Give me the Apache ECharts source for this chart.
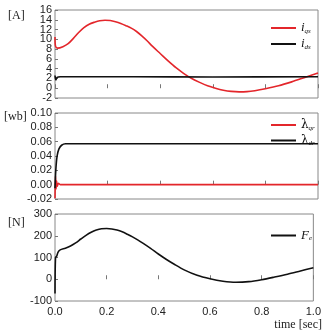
<!DOCTYPE html>
<html>
<head>
<meta charset="utf-8">
<script src="https://cdn.jsdelivr.net/npm/echarts@6/dist/echarts.min.js"></script>
<style>
  html, body { margin: 0; padding: 0; background: #fff; }
  #chart { width: 324px; height: 332px; }
</style>
</head>
<body>
<div id="chart"></div>
<script>
// tick labels
var timeTicks = [0, 0.2, 0.4, 0.6, 0.8, 1.0];
var ampTicks = [-2, 0, 2, 4, 6, 8, 10, 12, 14, 16];
var fluxTicks = [-0.02, 0.0, 0.02, 0.04, 0.06, 0.08, 0.10];
var forceTicks = [-100, 0, 100, 200, 300];

// [A] currents
var iqs = [[0, 10.5], [0.002, 8.6], [0.01, 8.2], [0.03, 8.5], [0.05, 9.1], [0.07, 10.2],
  [0.09, 11.4], [0.11, 12.4], [0.13, 13.1], [0.15, 13.5], [0.17, 13.8], [0.19, 13.9],
  [0.21, 13.85], [0.23, 13.6], [0.25, 13.25], [0.27, 12.8], [0.29, 12.3], [0.31, 11.6],
  [0.33, 10.7], [0.35, 9.7], [0.37, 8.6], [0.40, 7.1], [0.43, 5.6], [0.46, 4.2], [0.49, 3.0],
  [0.52, 2.0], [0.55, 1.2], [0.58, 0.5], [0.61, 0.0], [0.64, -0.4], [0.67, -0.65],
  [0.70, -0.75], [0.73, -0.7], [0.76, -0.5], [0.80, -0.1], [0.85, 0.5], [0.90, 1.3],
  [0.95, 2.2], [1.0, 3.1]];
var ids = [[0, 2.6], [0.003, 1.7], [0.008, 2.2], [0.02, 2.35], [0.3, 2.35], [0.6, 2.3], [1.0, 2.35]];

// [wb] fluxes
var lqr = [[0, -0.019], [0.002, 0.012], [0.004, -0.006], [0.006, 0.005], [0.009, -0.002],
  [0.013, 0.002], [0.02, 0.0], [1.0, 0.0]];
var ldr = [[0, -0.005], [0.003, 0.02], [0.008, 0.04], [0.015, 0.05], [0.025, 0.055],
  [0.04, 0.057], [1.0, 0.057]];

// [N] force
var fe = [[0, -65], [0.002, 100], [0.006, 105], [0.012, 125], [0.02, 135], [0.04, 143],
  [0.06, 153], [0.08, 167], [0.10, 185], [0.12, 202], [0.14, 216], [0.16, 226],
  [0.18, 232], [0.20, 233], [0.22, 231], [0.24, 226], [0.26, 218], [0.28, 207],
  [0.30, 195], [0.32, 181], [0.34, 166], [0.37, 142], [0.40, 116], [0.43, 92], [0.46, 70], [0.50, 43],
  [0.55, 18], [0.60, 2], [0.65, -9], [0.70, -14], [0.75, -11], [0.80, -2],
  [0.85, 10], [0.90, 23], [0.95, 38], [1.0, 53]];

var legendText = {
  iqs: '{m|i}{s|qs}', ids: '{m|i}{s|ds}',
  lqr: '{g|λ}{s|qr}', ldr: '{g|λ}{s|dr}',
  fe: '{m|F}{s|e}'
};
var rich = {
  m: { fontFamily: 'Liberation Serif', fontStyle: 'italic', fontSize: 13, color: '#111' },
  g: { fontFamily: 'DejaVu Serif', fontSize: 12, color: '#111' },
  s: { fontFamily: 'Liberation Serif', fontStyle: 'italic', fontSize: 7, color: '#111',
       verticalAlign: 'bottom', padding: [6, 0, 0, 0] }
};

var RED = '#e3262b', BLACK = '#111';
var grids = [
  { left: 55, right: 6, top: 10, height: 88 },
  { left: 55, right: 6, top: 113, height: 86 },
  { left: 55, right: 6, top: 214, height: 87 }
];
var yTicks = [ampTicks, fluxTicks, forceTicks];
var yDigits = [0, 2, 0];

var chart = echarts.init(document.getElementById('chart'));

var xAxes = [0, 1, 2].map(function (i) {
  return {
    type: 'value', gridIndex: i, min: 0, max: 1, interval: 0.2,
    axisLine: { show: false },
    axisTick: { show: true, inside: true, length: 4, lineStyle: { color: '#777' } },
    splitLine: { show: false },
    axisLabel: {
      show: i === 2, color: '#222', fontFamily: 'Liberation Sans', fontSize: 11, margin: 5,
      customValues: timeTicks, showMinLabel: true, showMaxLabel: true,
      formatter: function (v) { return v.toFixed(1); }
    }
  };
});

function yAxis(grid, ticks, labels, digits, showTicks) {
  return {
    type: 'value', gridIndex: grid, position: 'left', offset: 0,
    min: ticks[0], max: ticks[ticks.length - 1], interval: ticks[1] - ticks[0],
    axisLine: { show: false },
    axisTick: { show: showTicks, inside: true, length: 3, customValues: ticks, lineStyle: { color: '#777' } },
    splitLine: { show: false },
    axisLabel: {
      color: '#222', fontFamily: 'Liberation Sans', fontSize: 11, margin: 3,
      customValues: labels, hideOverlap: false, showMinLabel: true, showMaxLabel: true,
      formatter: function (v) { return v.toFixed(digits); }
    }
  };
}

// the [A] panel is dense: its labels are split over two overlaid axes so none get dropped
var yAxes = [0, 1, 2].map(function (i) {
  var t = yTicks[i];
  var labels = i === 0 ? t.filter(function (v, k) { return k % 2 === 0; }) : t;
  return yAxis(i, t, labels, yDigits[i], true);
});
yAxes.push(yAxis(0, ampTicks, ampTicks.filter(function (v, k) { return k % 2 === 1; }), 0, false));

function line(name, data, idx, color) {
  return {
    name: name, type: 'line', xAxisIndex: idx, yAxisIndex: idx, data: data,
    symbol: 'none', smooth: 0.3, animation: false,
    lineStyle: { color: color, width: 1.6 }, itemStyle: { color: color }
  };
}

function legend(names, top) {
  return {
    data: names, orient: 'vertical', left: 265, top: top,
    itemWidth: 25, itemHeight: 10, itemGap: 3, itemStyle: { opacity: 0 },
    formatter: function (n) { return legendText[n]; },
    textStyle: { rich: rich }
  };
}

chart.setOption({
  animation: false,
  grid: grids.map(function (g) {
    return Object.assign({ show: true, borderColor: '#888', borderWidth: 1 }, g);
  }),
  xAxis: xAxes,
  yAxis: yAxes,
  legend: [legend(['iqs', 'ids'], 16.5), legend(['lqr', 'ldr'], 114), legend(['fe'], 224)],
  graphic: [
    { type: 'text', left: 8, top: 10, style: { text: '[A]', font: '12px "Liberation Serif"', fill: '#222' } },
    { type: 'text', left: 4, top: 111, style: { text: '[wb]', font: '12px "Liberation Serif"', fill: '#222' } },
    { type: 'text', left: 8, top: 217, style: { text: '[N]', font: '12px "Liberation Serif"', fill: '#222' } },
    { type: 'text', right: 2, top: 319, style: { text: 'time [sec]', font: '12px "Liberation Serif"', fill: '#222' } }
  ],
  series: [
    line('iqs', iqs, 0, RED),
    line('ids', ids, 0, BLACK),
    line('lqr', lqr, 1, RED),
    line('ldr', ldr, 1, BLACK),
    line('fe', fe, 2, BLACK)
  ]
});
</script>
</body>
</html>
